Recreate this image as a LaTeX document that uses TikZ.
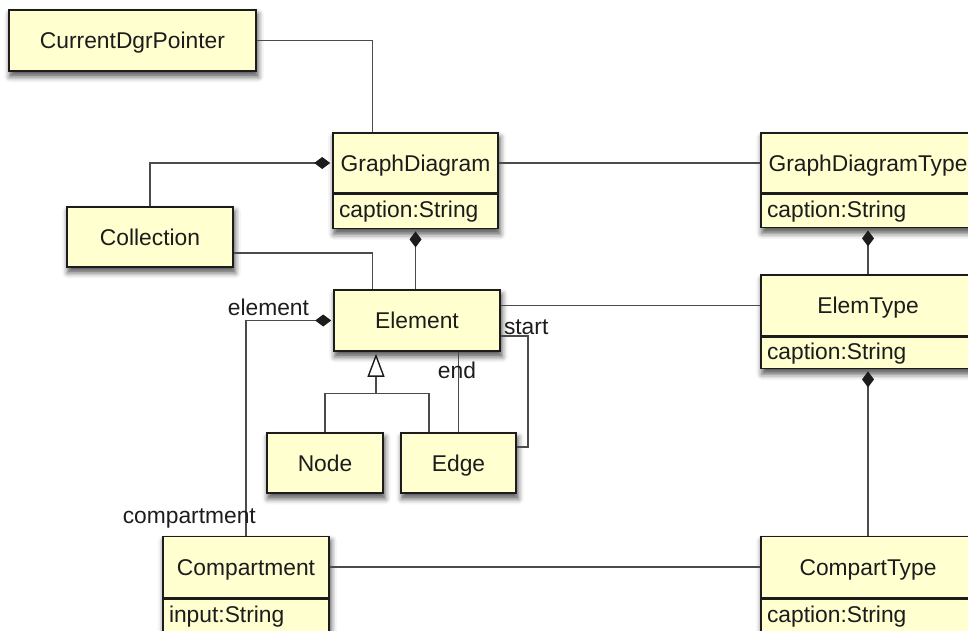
\documentclass[tikz,border=0pt]{standalone}
\usepackage{fontspec}
\setmainfont{Liberation Sans}
\usetikzlibrary{arrows.meta,calc,fit,backgrounds,shadows.blur}
\definecolor{boxfill}{RGB}{255,255,208}
\definecolor{boxline}{RGB}{28,28,28}
\definecolor{wire}{RGB}{75,75,75}

\begin{document}
\begin{tikzpicture}[x=1pt,y=-1pt,
  every node/.style={font=\fontsize{22.8}{26}\selectfont, text=boxline},
  cls/.style={draw=boxline, fill=boxfill, line width=1.6pt, inner sep=0pt, align=center,
    text height=16.3pt, text depth=0pt},
  attr/.style={cls, anchor=north, minimum height=34pt, inner xsep=6pt, align=left, text depth=4pt},
  shade/.style={fill=boxfill, inner sep=0pt,
    blur shadow={shadow xshift=1.5pt, shadow yshift=-5pt, shadow blur radius=5.5pt, shadow opacity=65}},
  wireline/.style={draw=wire, line width=1.4pt},
  comp/.style={wireline, {Diamond[length=16pt,width=12pt,color=boxline]}-, shorten <=2pt},
  gen/.style={wireline, -{Triangle[open,length=23pt,width=17pt,fill=white,color=boxline]}, shorten >=2pt},
  role/.style={inner sep=0pt}
]
\useasboundingbox (0,0) rectangle (968,630);
\clip (0,0) rectangle (968,630);

% plain classes
\node[cls, minimum width=247pt, minimum height=61pt] (cdp)   at (132.5,40.5) {CurrentDgrPointer};
\node[cls, minimum width=166pt, minimum height=60pt] (coll)  at (150,237)    {Collection};
\node[cls, minimum width=166pt, minimum height=61pt] (elem)  at (417,320.5)  {Element};
\node[cls, minimum width=116pt, minimum height=60pt] (nodecls) at (325,463)  {Node};
\node[cls, minimum width=115pt, minimum height=60pt] (edgecls) at (458.5,463) {Edge};

% classes with one attribute
\node[cls, minimum width=165pt, minimum height=60pt] (gd) at (415.5,163) {GraphDiagram};
\node[attr, text width=153pt] (gdattr) at (gd.south) {caption:String};

\node[cls, minimum width=214pt, minimum height=60pt] (gdt) at (868,163) {GraphDiagramType};
\node[attr, text width=202pt, minimum height=33pt] (gdtattr) at (gdt.south) {caption:String};

\node[cls, minimum width=214pt, minimum height=61pt] (et) at (868,305.5) {ElemType};
\node[attr, text width=202pt, minimum height=31pt] (etattr) at (et.south) {caption:String};

\node[cls, minimum width=166pt, minimum height=61pt] (comp) at (246,567) {Compartment};
\node[attr, text width=154pt] (compattr) at (comp.south) {input:String};

\node[cls, minimum width=214pt, minimum height=61pt] (ct) at (868,567) {CompartType};
\node[attr, text width=202pt] (ctattr) at (ct.south) {caption:String};

% drop shadows behind every class box
\begin{scope}[on background layer]
  \foreach \n in {cdp,coll,elem,nodecls,edgecls} \node[shade, fit=(\n)] {};
  \node[shade, fit=(gd)(gdattr)] {};
  \node[shade, fit=(gdt)(gdtattr)] {};
  \node[shade, fit=(et)(etattr)] {};
  \node[shade, fit=(comp)(compattr)] {};
  \node[shade, fit=(ct)(ctattr)] {};
\end{scope}

% associations
\draw[wireline] (cdp.east) -| ($(gd.north west)+(40,0)$);
\draw[wireline] ($(coll.east)+(0,16)$) -| ($(elem.north west)+(39,0)$);
\draw[wireline] (gd.east) -- (gdt.west);
\draw[wireline] (et.west) -- (et.west -| elem.east);
\draw[wireline] (comp.east) -- (ct.west);
\draw[wireline] ($(elem.east)+(0,15.5)$) -| ($(edgecls.east)+(11,-16)$) -- ($(edgecls.east)+(0,-16)$);
\draw[wireline] (edgecls.north) -- (edgecls.north |- elem.south);

% compositions
\draw[comp] (gd.west) -| (coll.north);
\draw[comp] (gdattr.south) -- (gdattr.south |- elem.north);
\draw[comp] (gdtattr.south) -- (et.north);
\draw[comp] (etattr.south) -- (ct.north);
\draw[comp] (elem.west) -| (comp.north);

% generalization
\coordinate (genj) at ($(elem.south)+(-41,41.5)$);
\draw[gen] (genj) -- (genj |- elem.south);
\draw[wireline] (nodecls.north) |- (genj) -| ($(edgecls.north)+(-29.5,0)$);

% role names
\node[role, anchor=east] (lelement) at ($(elem.west)+(-24,-13.5)$) {element};
\node[role, anchor=west] (lstart) at ($(elem.east)+(3,6.5)$) {start};
\node[role] (lend) at ($(elem.south)+(40,19)$) {end};
\node[role, anchor=east] (lcomp) at ($(comp.north)+(10,-17)$) {compartment};
\end{tikzpicture}
\end{document}
